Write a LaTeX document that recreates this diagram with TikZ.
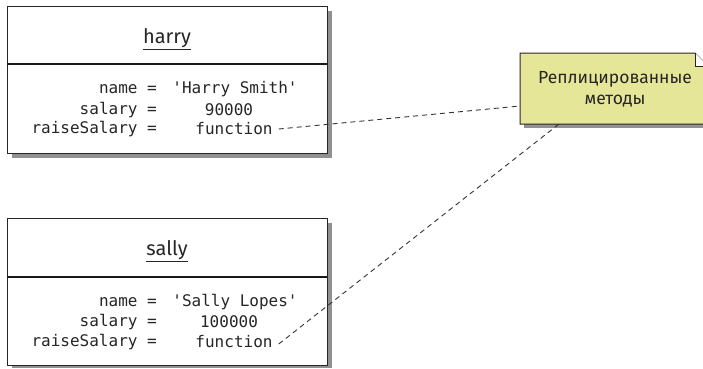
\documentclass[tikz,border=0pt]{standalone}
\usepackage{fontspec}
\setmainfont{Fira Sans}
\newfontfamily\codefont{DejaVu Sans Mono}
\definecolor{notefill}{RGB}{230,230,152}
\definecolor{shadowgray}{RGB}{145,145,145}
\begin{document}
\begin{tikzpicture}[x=1pt,y=1pt,
  objbox/.style={draw=black!85, line width=1pt, fill=white},
  shadowbox/.style={fill=shadowgray, draw=none},
  sep/.style={draw=black!90, line width=2pt},
  titletext/.style={font=\fontsize{20}{24}\selectfont, text=black!85},
  codelbl/.style={font=\codefont\fontsize{16}{19}\selectfont, anchor=east, inner sep=0pt, text=black!85},
  codeval/.style={font=\codefont\fontsize{16}{19}\selectfont, inner sep=0pt, text=black!85},
  notetext/.style={font=\fontsize{17.5}{21}\selectfont, align=center, text=black!85},
  link/.style={draw=black!80, dash pattern=on 5pt off 4pt, line width=0.9pt}
]
\useasboundingbox (0,0) rectangle (703,368);
% ---- harry ----
\fill[shadowbox] (12,210) rectangle (332,219);
\fill[shadowbox] (327,210) rectangle (332,357);
\draw[objbox] (7,215) rectangle (327,362);
\draw[sep] (7,304) -- (327,304);
\node[titletext] (ht) at (167,329) {\underline{harry}};
\node[codelbl] (hn) at (157,279) {name =};
\node[codelbl] (hs) at (157,258) {salary =};
\node[codelbl] (hr) at (157,239) {raiseSalary =};
\node[codeval] (hnv) at (235,279) {'Harry Smith'};
\node[codeval] (hsv) at (229,258) {90000};
\node[codeval] (hf) at (234,239) {function};
% ---- sally ----
\fill[shadowbox] (12,0) rectangle (332,6);
\fill[shadowbox] (327,0) rectangle (332,145);
\draw[objbox] (7,3) rectangle (327,150);
\draw[sep] (7,91) -- (327,91);
\node[titletext] (st) at (167,117) {\underline{sally}};
\node[codelbl] (sn) at (157,66) {name =};
\node[codelbl] (ss) at (157,46) {salary =};
\node[codelbl] (sr) at (157,26) {raiseSalary =};
\node[codeval] (snv) at (235,66) {'Sally Lopes'};
\node[codeval] (ssv) at (229,46) {100000};
\node[codeval] (sf) at (234,26) {function};
% ---- note ----
\fill[shadowbox] (524,240) rectangle (710,248);
\fill[notefill, draw=black!85, line width=1pt]
  (520,244) -- (520,315) -- (695,315) -- (708,302) -- (708,244) -- cycle;
\draw[black!85, line width=0.8pt, fill=white] (695,315) -- (695,302) -- (708,302);
\node[notetext] (note) at (615,279) {Реплицированные\\методы};
\coordinate (nl) at (520,262);
\coordinate (nb) at (559,244);
% ---- links ----
\draw[link] ([xshift=6pt]hf.east) -- (nl);
\draw[link] ([xshift=6pt,yshift=-2pt]sf.east) -- (nb);
\end{tikzpicture}
\end{document}
